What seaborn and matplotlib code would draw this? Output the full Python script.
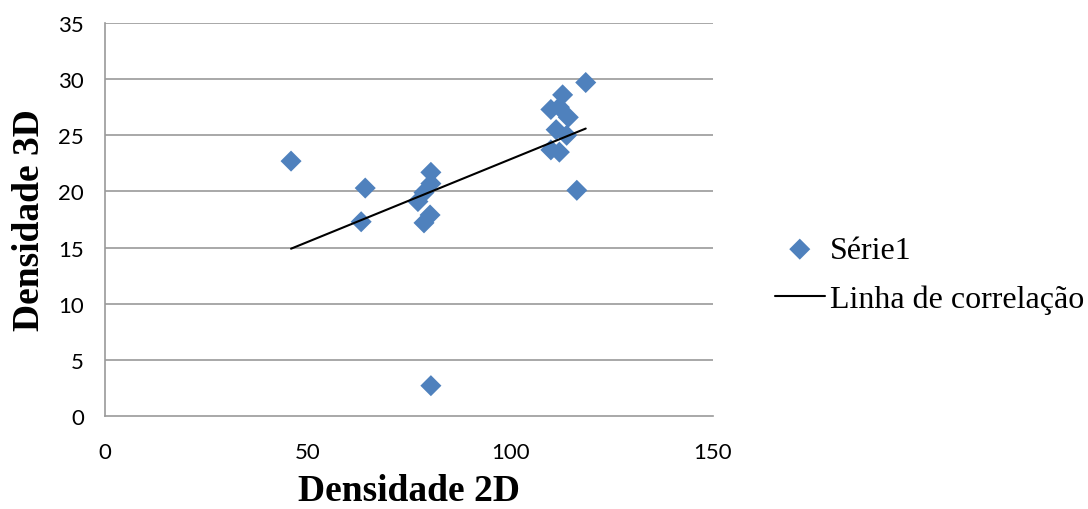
import numpy as np
import pandas as pd
import matplotlib
matplotlib.use("Agg")
import matplotlib.pyplot as plt
import seaborn as sns

# values
dens_2d = [45.9, 64.2, 63.2, 80.4, 80.4, 78.7, 77.2, 80.2, 78.7, 80.4,
           118.6, 112.9, 110.0, 112.1, 114.3, 111.3, 113.9, 110.0, 112.1, 116.4]
dens_3d = [22.7, 20.3, 17.3, 21.7, 20.7, 19.9, 19.1, 17.9, 17.2, 2.7,
           29.7, 28.6, 27.3, 27.5, 26.6, 25.5, 25.0, 23.7, 23.5, 20.1]

# correlation line end points
line_x = [45.9, 118.6]
line_y = [14.9, 25.6]

x_ticks = [0, 50, 100, 150]
y_ticks = [0, 5, 10, 15, 20, 25, 30, 35]

pts = pd.DataFrame({"Densidade 2D": dens_2d, "Densidade 3D": dens_3d})
fit = pd.DataFrame({"x": line_x, "y": line_y})

sns.set_style("white")
fig = plt.figure(figsize=(10.88, 5.10), dpi=100)
ax = fig.add_axes([105 / 1088, 93 / 510, 608 / 1088, 393 / 510])

grid_col = "#9a9a9a"
for v in y_ticks[1:]:
    ax.axhline(v, color=grid_col, lw=1.2, zorder=0)

sns.scatterplot(data=pts, x="Densidade 2D", y="Densidade 3D", marker="D",
                s=115, color="#4F81BD", edgecolor="none", ax=ax,
                label="Série1", zorder=3)
sns.lineplot(data=fit, x="x", y="y", color="black", lw=1.5, ax=ax,
             label="Linha de correlação", zorder=4)

ax.set_xlim(0, 150)
ax.set_ylim(0, 35)
ax.set_xticks(x_ticks)
ax.set_yticks(y_ticks)
for side in ["top", "right"]:
    ax.spines[side].set_visible(False)
for side in ["left", "bottom"]:
    ax.spines[side].set_color(grid_col)
    ax.spines[side].set_linewidth(1.2)
ax.tick_params(axis="both", direction="out", length=7, width=1.2, color=grid_col,
               labelsize=16, labelcolor="black", pad=8)
ax.tick_params(axis="x", pad=12)
for lab in ax.get_xticklabels() + ax.get_yticklabels():
    lab.set_fontfamily("Lato")

serif = "Liberation Serif"
ax.set_xlabel("Densidade 2D", fontsize=27, fontweight="bold", family=serif,
              color="black", labelpad=8)
ax.set_ylabel("Densidade 3D", fontsize=27, fontweight="bold", family=serif,
              color="black", labelpad=8)

leg = ax.legend(loc="center left", bbox_to_anchor=(1.102, 0.36), frameon=False,
                prop={"family": serif, "size": 23}, handlelength=1.55,
                handletextpad=0.16, labelspacing=0.62, borderaxespad=0,
                borderpad=0)
for t in leg.get_texts():
    t.set_color("black")

fig.savefig("out.png", dpi=100)
